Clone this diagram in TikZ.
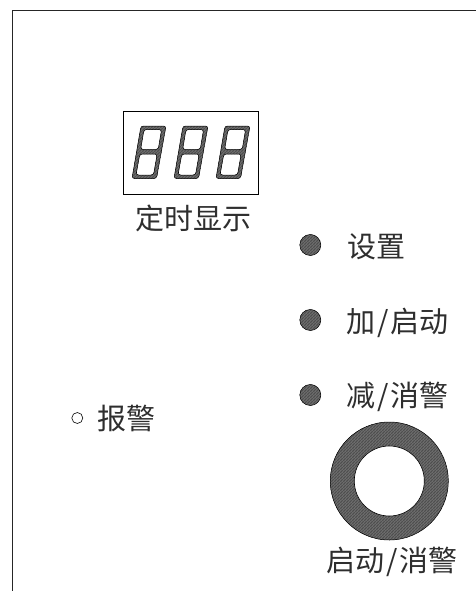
\documentclass[tikz,border=0pt]{standalone}
\usepackage{fontspec}
\setmainfont{Noto Sans CJK SC}
\usetikzlibrary{patterns}
\pgfdeclarepatternformonly{hatchfine}{\pgfqpoint{-1pt}{-1pt}}{\pgfqpoint{3pt}{3pt}}{\pgfqpoint{1.5pt}{1.5pt}}{
  \pgfsetlinewidth{0.42pt}
  \pgfpathmoveto{\pgfqpoint{-1pt}{-1pt}}
  \pgfpathlineto{\pgfqpoint{3pt}{3pt}}
  \pgfusepath{stroke}
}
\newcommand{\halfslash}{\makebox[.5em][c]{/}}
\newcommand{\sevenseg}[1]{%
  \begin{scope}[shift={(#1,0)}]
    \draw[hatched,even odd rule,rounded corners=2.5pt]
      (4,178.5) -- (28.5,178.5) -- (38,126) -- (13,126) -- cycle
      (8,175) -- (25.5,175) -- (29.2,154) -- (11.8,154) -- cycle
      (12.6,149.5) -- (30.2,149.5) -- (33.6,129.5) -- (16,129.5) -- cycle;
  \end{scope}}
\tikzset{
  x=1pt,y=-1pt,
  hatched/.style={draw=black,line width=0.5pt,pattern=hatchfine,pattern color=black!70},
  frameline/.style={draw=black!85,line width=1.2pt},
  cjktext/.style={font=\fontsize{29}{29}\selectfont,inner sep=0pt,text=black!82},
  lamp/.style={circle,minimum size=21pt,inner sep=0pt,hatched},
}
\begin{document}
\begin{tikzpicture}
  \useasboundingbox (0,0) rectangle (476,591);
  \draw[frameline] (476,10.5) -- (12.5,10.5) -- (12.5,591);
  \node[draw=black,line width=0.6pt,minimum width=135pt,minimum height=83pt,inner sep=0pt] (display) at (190.5,152.5) {};
  \sevenseg{128}
  \sevenseg{170}
  \sevenseg{212}
  \node[cjktext] (displaytext) at (193,218) {定时显示};
  \node[lamp] (setlamp) at (310.3,245) {};
  \node[lamp] (addlamp) at (310.3,320) {};
  \node[lamp] (sublamp) at (310.3,395) {};
  \node[cjktext,anchor=west] (settext) at (347,247) {设置};
  \node[cjktext,anchor=west] (addtext) at (346.5,323) {加\halfslash 启动};
  \node[cjktext,anchor=west] (subtext) at (346.5,397) {减\halfslash 消警};
  \node[circle,hatched,minimum size=118pt,inner sep=0pt] (ringouter) at (389.3,481) {};
  \node[circle,draw=black,line width=0.6pt,fill=white,minimum size=70pt,inner sep=0pt] (ringinner) at (389.3,481) {};
  \node[cjktext] (ringtext) at (392,562) {启动\halfslash 消警};
  \node[circle,draw=black,line width=0.6pt,minimum size=11pt,inner sep=0pt] (alarmlamp) at (77.3,418) {};
  \node[cjktext,anchor=west] (alarmtext) at (97.5,418) {报警};
\end{tikzpicture}
\end{document}
